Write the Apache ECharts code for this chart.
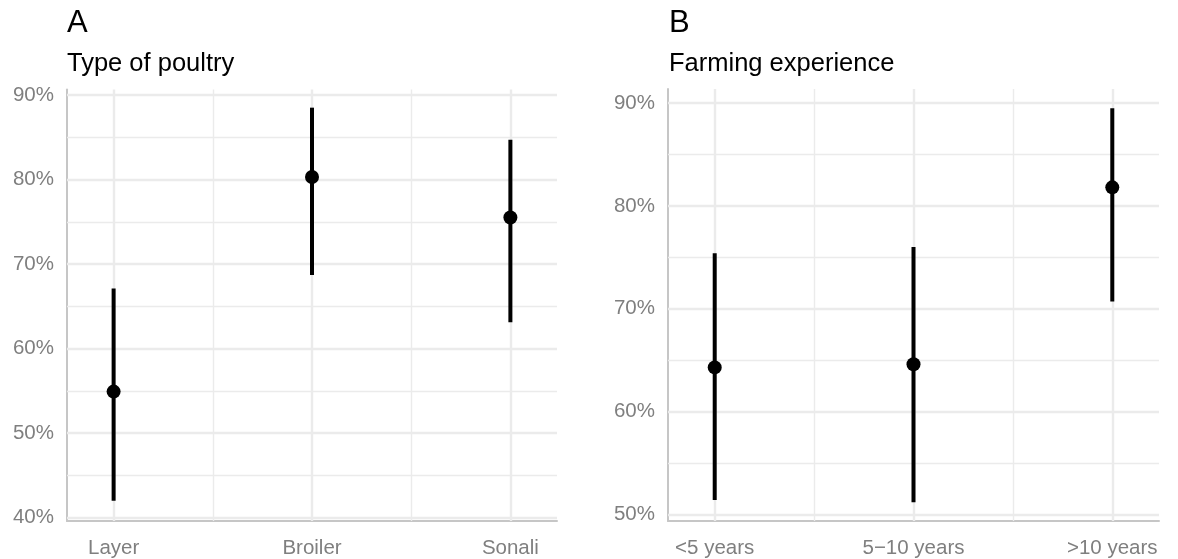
<!DOCTYPE html>
<html>
<head>
<meta charset="utf-8">
<script src="https://cdn.jsdelivr.net/npm/echarts@6/dist/echarts.min.js"></script>
<style>
html,body{margin:0;padding:0;background:#fff;}
#chart{width:1178px;height:559px;}
</style>
</head>
<body>
<div id="chart"></div>
<script>
// ---- data ----
const panelTags = ['A', 'B'];
const panelTitles = ['Type of poultry', 'Farming experience'];

const catsA = ['Layer', 'Broiler', 'Sonali'];
const estA  = [0.549, 0.803, 0.755];
const lowA  = [0.420, 0.687, 0.631];
const highA = [0.671, 0.885, 0.847];
const ticksA = [0.4, 0.5, 0.6, 0.7, 0.8, 0.9];

const catsB = ['<5 years', '5\u221210 years', '>10 years'];
const estB  = [0.643, 0.646, 0.818];
const lowB  = [0.514, 0.512, 0.707];
const highB = [0.754, 0.760, 0.895];
const ticksB = [0.5, 0.6, 0.7, 0.8, 0.9];

// ---- styling ----
const FONT = '"Liberation Sans", Arial, sans-serif';
const GRID_COL = '#ebebeb';
const AXIS_COL = '#c6c6c6';
const LABEL_COL = '#7f7f7f';

function midpoints(arr) {
  const out = [];
  for (let i = 0; i < arr.length - 1; i++) out.push(+((arr[i] + arr[i + 1]) / 2).toFixed(4));
  return out;
}

function panel(idx, cats, est, low, high, ticks, yMin, yMax) {
  const catIdx = cats.map((c, i) => i);
  const xAxis = {
    gridIndex: idx, type: 'value', min: -0.235, max: 2.235,
    axisLine: { show: true, onZero: false, lineStyle: { color: AXIS_COL, width: 2 } },
    axisTick: { show: false, customValues: catIdx },
    axisLabel: {
      customValues: catIdx, hideOverlap: false,
      color: LABEL_COL, fontSize: 20.5, fontFamily: FONT, margin: 17,
      formatter: v => cats[Math.round(v)] || ''
    },
    splitLine: { show: false }
  };
  const yAxis = {
    gridIndex: idx, type: 'value', min: yMin, max: yMax,
    axisLine: { show: true, onZero: false, lineStyle: { color: AXIS_COL, width: 2 } },
    axisTick: { show: false, customValues: ticks },
    axisLabel: {
      customValues: ticks, hideOverlap: false,
      color: LABEL_COL, fontSize: 20.5, fontFamily: FONT, margin: 13,
      formatter: v => Math.round(v * 100) + '%'
    },
    splitLine: { show: false }
  };
  const xMinor = midpoints(catIdx);
  const yMinor = midpoints(ticks);
  const majorStyle = { color: GRID_COL, width: 2.4, type: 'solid' };
  const minorStyle = { color: GRID_COL, width: 1.4, type: 'solid' };
  const gridLines = []
    .concat(catIdx.map(v => ({ xAxis: v, lineStyle: majorStyle })))
    .concat(ticks.map(v => ({ yAxis: v, lineStyle: majorStyle })))
    .concat(xMinor.map(v => ({ xAxis: v, lineStyle: minorStyle })))
    .concat(yMinor.map(v => ({ yAxis: v, lineStyle: minorStyle })));
  const barData = cats.map((c, i) => [i, low[i], high[i]]);
  const ptData = cats.map((c, i) => [i, est[i]]);
  const series = [
    {
      type: 'custom', xAxisIndex: idx, yAxisIndex: idx, z: 3, silent: true,
      data: barData,
      encode: { x: 0, y: [1, 2] },
      renderItem: (params, api) => {
        const x = api.value(0);
        const p1 = api.coord([x, api.value(1)]);
        const p2 = api.coord([x, api.value(2)]);
        return {
          type: 'line',
          shape: { x1: p1[0], y1: p1[1], x2: p2[0], y2: p2[1] },
          style: { stroke: '#000', lineWidth: 4, lineCap: 'butt' }
        };
      },
      markLine: {
        silent: true, symbol: 'none', z: 1, animation: false,
        label: { show: false },
        emphasis: { disabled: true },
        data: gridLines
      }
    },
    {
      type: 'scatter', xAxisIndex: idx, yAxisIndex: idx, z: 4, silent: true,
      symbol: 'circle', symbolSize: 14,
      itemStyle: { color: '#000', opacity: 1 },
      data: ptData
    }
  ];
  return { xAxis, yAxis, series };
}

const pA = panel(0, catsA, estA, lowA, highA, ticksA, 0.3959, 0.9065);
const pB = panel(1, catsB, estB, lowB, highB, ticksB, 0.4937, 0.9136);

const titleBase = { padding: 0, itemGap: 0 };
const chart = echarts.init(document.getElementById('chart'), null, { renderer: 'canvas' });
chart.setOption({
  animation: false,
  backgroundColor: '#ffffff',
  title: [
    Object.assign({ text: panelTags[0], left: 67, top: 8, textStyle: { fontSize: 31, fontWeight: 'normal', color: '#000', fontFamily: FONT } }, titleBase),
    Object.assign({ text: panelTitles[0], left: 67, top: 51, textStyle: { fontSize: 25.5, fontWeight: 'normal', color: '#000', fontFamily: FONT } }, titleBase),
    Object.assign({ text: panelTags[1], left: 669, top: 8, textStyle: { fontSize: 31, fontWeight: 'normal', color: '#000', fontFamily: FONT } }, titleBase),
    Object.assign({ text: panelTitles[1], left: 669, top: 51, textStyle: { fontSize: 25.5, fontWeight: 'normal', color: '#000', fontFamily: FONT } }, titleBase)
  ],
  grid: [
    { left: 67, top: 89.5, width: 490, height: 433, containLabel: false },
    { left: 668, top: 89, width: 491, height: 433, containLabel: false }
  ],
  xAxis: [pA.xAxis, pB.xAxis],
  yAxis: [pA.yAxis, pB.yAxis],
  series: pA.series.concat(pB.series)
});
</script>
</body>
</html>
